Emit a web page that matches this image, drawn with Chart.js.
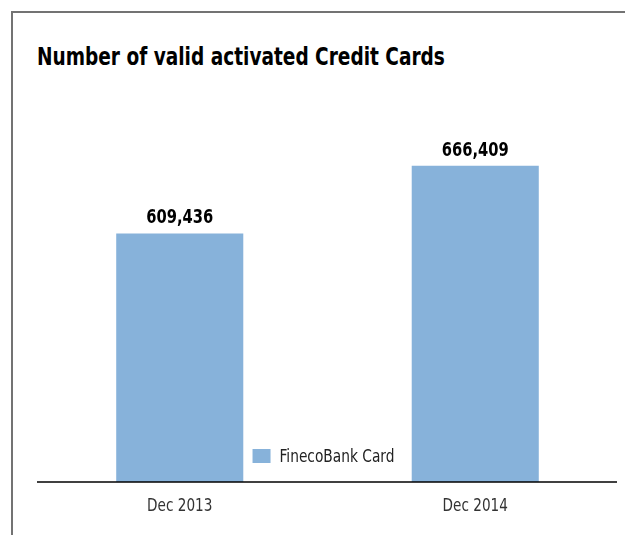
<!DOCTYPE html>
<html>
<head>
<meta charset="utf-8">
<script src="https://cdn.jsdelivr.net/npm/chart.js@4.4.1/dist/chart.umd.min.js"></script>
<style>
  html, body { margin: 0; padding: 0; background: #fff; }
  #wrap { position: relative; width: 625px; height: 535px; overflow: hidden; }
  #frame { position: absolute; left: 11px; top: 11px; width: 620px; height: 540px;
           border-top: 2px solid #737373; border-left: 2px solid #737373; }
  #title { position: absolute; left: 37px; top: 42px; margin: 0;
           font-family: 'DejaVu Sans Condensed', 'DejaVu Sans', sans-serif;
           font-weight: bold; font-size: 25px; color: #000; white-space: nowrap;
           transform: scaleX(0.824); transform-origin: 0 0; }
  canvas { position: absolute; left: 0; top: 0; }
</style>
</head>
<body>
<div id="wrap">
  <div id="frame"></div>
  <div id="title">Number of valid activated Credit Cards</div>
  <canvas id="c" width="625" height="535"></canvas>
</div>
<script>
const categories = ['Dec 2013', 'Dec 2014'];
const seriesName = 'FinecoBank Card';
const seriesValues = [609436, 666409];

const FONT = "'DejaVu Sans Condensed', 'DejaVu Sans', sans-serif";
const BAR_COLOR = '#87b2da';

function drawNarrow(ctx, text, x, y, align, sx) {
  ctx.save();
  ctx.translate(x, y);
  ctx.scale(sx, 1);
  ctx.textAlign = align;
  ctx.textBaseline = 'alphabetic';
  ctx.fillText(text, 0, 0);
  ctx.restore();
}

const overlay = {
  id: 'overlay',
  afterDatasetsDraw(chart) {
    const ctx = chart.ctx;
    const area = chart.chartArea;
    const meta = chart.getDatasetMeta(0);
    const xs = chart.scales.x;
    const ys = chart.scales.y;
    ctx.save();
    // value labels
    ctx.fillStyle = '#000';
    ctx.font = 'bold 19px ' + FONT;
    meta.data.forEach((bar, i) => {
      const v = chart.data.datasets[0].data[i];
      drawNarrow(ctx, v.toLocaleString('en-US'), bar.x, bar.y - 10, 'center', 0.86);
    });
    // baseline
    const yb = ys.getPixelForValue(ys.min);
    ctx.strokeStyle = '#000';
    ctx.lineWidth = 1.5;
    ctx.beginPath();
    ctx.moveTo(area.left + 5, yb);
    ctx.lineTo(area.right - 6, yb);
    ctx.stroke();
    // category tick labels
    ctx.fillStyle = '#333';
    ctx.font = '18px ' + FONT;
    xs.ticks.forEach((t, i) => {
      drawNarrow(ctx, xs.getLabelForValue(t.value), xs.getPixelForTick(i), yb + 29, 'center', 0.84);
    });
    // legend
    const label = chart.data.datasets[0].label;
    ctx.font = '18px ' + FONT;
    const tw = ctx.measureText(label).width * 0.85;
    const total = 18 + 9 + tw;
    const cx = (area.left + area.right) / 2 - 4;
    const x0 = cx - total / 2;
    const ym = area.bottom - 26;
    ctx.fillStyle = chart.data.datasets[0].backgroundColor;
    ctx.fillRect(x0, ym - 7, 18, 14);
    ctx.fillStyle = '#222';
    drawNarrow(ctx, label, x0 + 27, ym + 6, 'left', 0.85);
    ctx.restore();
  }
};

new Chart(document.getElementById('c'), {
  type: 'bar',
  data: {
    labels: categories,
    datasets: [{
      label: seriesName,
      data: seriesValues,
      backgroundColor: BAR_COLOR,
      borderWidth: 0,
      barPercentage: 0.43,
      categoryPercentage: 1.0
    }]
  },
  options: {
    responsive: false,
    animation: false,
    devicePixelRatio: 1,
    layout: { padding: { left: 32, right: 2, top: 126, bottom: 53 } },
    plugins: {
      legend: { display: false },
      title: { display: false },
      tooltip: { enabled: false }
    },
    scales: {
      x: { display: false },
      y: { display: false, min: 400000, max: 700000 }
    }
  },
  plugins: [overlay]
});
</script>
</body>
</html>
